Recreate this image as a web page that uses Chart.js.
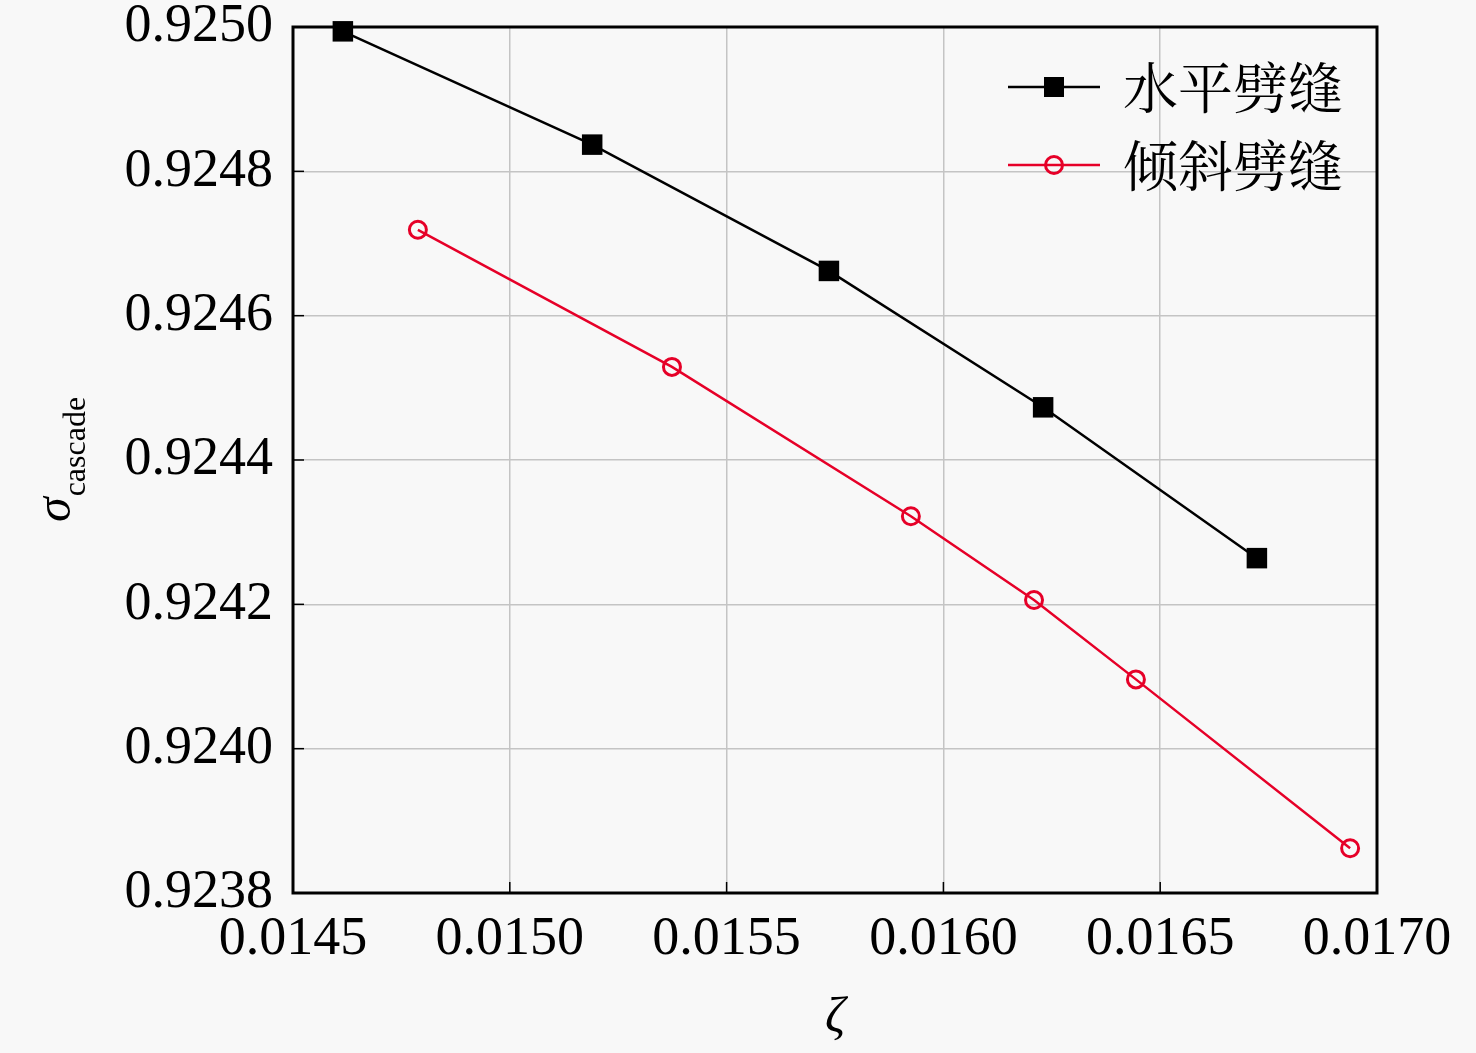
<!DOCTYPE html>
<html lang="zh">
<head>
<meta charset="UTF-8">
<title>sigma cascade vs zeta</title>
<script src="https://cdn.jsdelivr.net/npm/chart.js@4.4.0/dist/chart.umd.min.js"></script>
<style>
  body { margin: 0; background: #f8f8f8; }
  canvas { display: block; }
</style>
</head>
<body>
<canvas id="myChart" width="1476" height="1053"></canvas>
<script>
// data
var seriesNames = ['水平劈缝', '倾斜劈缝'];
var horizZeta  = [0.014615, 0.015190, 0.015736, 0.016230, 0.016723];
var horizSigma = [0.924994, 0.924837, 0.924662, 0.924473, 0.924264];
var tiltZeta   = [0.014788, 0.015374, 0.015925, 0.016209, 0.016444, 0.016938];
var tiltSigma  = [0.924719, 0.924529, 0.924322, 0.924206, 0.924096, 0.923862];
var xTicks = [0.0145, 0.0150, 0.0155, 0.0160, 0.0165, 0.0170];
var yTicks = [0.9238, 0.9240, 0.9242, 0.9244, 0.9246, 0.9248, 0.9250];

var serif = '"Liberation Serif", "Times New Roman", serif';
var cjk = '"Noto Serif CJK SC", "Noto Sans CJK SC", sans-serif';
var red = 'rgb(230, 0, 40)';

function pairs(xs, ys) {
  return xs.map(function (x, i) { return { x: x, y: ys[i] }; });
}

// box, inward ticks, y title with subscript, legend
var decor = {
  id: 'decor',
  afterDraw: function (chart) {
    var ctx = chart.ctx, a = chart.chartArea;
    var xs = chart.scales.x, ys = chart.scales.y;
    ctx.save();
    ctx.strokeStyle = '#000';
    ctx.lineWidth = 1.5;
    xTicks.forEach(function (v) {
      var px = xs.getPixelForValue(v);
      ctx.beginPath(); ctx.moveTo(px, a.bottom); ctx.lineTo(px, a.bottom - 11); ctx.stroke();
    });
    yTicks.forEach(function (v) {
      var py = ys.getPixelForValue(v);
      ctx.beginPath(); ctx.moveTo(a.left, py); ctx.lineTo(a.left + 11, py); ctx.stroke();
    });
    ctx.lineWidth = 3;
    ctx.strokeRect(a.left, a.top, a.right - a.left, a.bottom - a.top);

    // y title: sigma_cascade
    ctx.translate(70, 522);
    ctx.rotate(-Math.PI / 2);
    ctx.fillStyle = '#000';
    ctx.textBaseline = 'alphabetic';
    ctx.textAlign = 'left';
    ctx.font = 'italic 50px ' + serif;
    ctx.fillText('σ', 0, 0);
    var w = ctx.measureText('σ').width;
    ctx.font = '32px ' + serif;
    ctx.fillText('cascade', w + 1, 15);
    ctx.setTransform(1, 0, 0, 1, 0, 0);

    // legend
    var rows = [87, 165];
    chart.data.datasets.forEach(function (ds, i) {
      var y = rows[i];
      ctx.strokeStyle = ds.borderColor;
      ctx.lineWidth = 2.5;
      ctx.beginPath(); ctx.moveTo(1008, y); ctx.lineTo(1100, y); ctx.stroke();
      if (ds.pointStyle === 'rect') {
        ctx.fillStyle = ds.pointBackgroundColor;
        ctx.fillRect(1054 - 10, y - 10, 20, 20);
      } else {
        ctx.lineWidth = ds.pointBorderWidth;
        ctx.beginPath(); ctx.arc(1054, y, ds.pointRadius, 0, Math.PI * 2); ctx.stroke();
      }
      ctx.fillStyle = '#000';
      ctx.font = '55px ' + cjk;
      ctx.textBaseline = 'middle';
      ctx.fillText(ds.label, 1123, y);
    });
    ctx.restore();
  }
};

var ctx = document.getElementById('myChart').getContext('2d');
var chart = new Chart(ctx, {
  type: 'scatter',
  data: {
    datasets: [{
      label: seriesNames[0],
      data: pairs(horizZeta, horizSigma),
      showLine: true,
      borderColor: '#000',
      borderWidth: 2.5,
      pointStyle: 'rect',
      pointRadius: 14.5,
      pointBackgroundColor: '#000',
      pointBorderColor: '#000',
      pointBorderWidth: 0,
      clip: false
    }, {
      label: seriesNames[1],
      data: pairs(tiltZeta, tiltSigma),
      showLine: true,
      borderColor: red,
      borderWidth: 2.5,
      pointStyle: 'circle',
      pointRadius: 8.5,
      pointBackgroundColor: 'rgba(0,0,0,0)',
      pointBorderColor: red,
      pointBorderWidth: 3,
      clip: false
    }]
  },
  options: {
    responsive: false,
    animation: false,
    devicePixelRatio: 1,
    layout: { padding: { left: 0, right: 99, top: 27, bottom: 0 } },
    plugins: { legend: { display: false }, tooltip: { enabled: false } },
    scales: {
      x: {
        type: 'linear',
        min: 0.0145, max: 0.0170,
        afterBuildTicks: function (s) { s.ticks = xTicks.map(function (v) { return { value: v }; }); },
        afterFit: function (s) { s.height = 160; s.paddingLeft = 0; s.paddingRight = 0; },
        grid: { color: '#c4c4c4', lineWidth: 1.5, drawTicks: false },
        border: { display: false },
        ticks: {
          padding: 14,
          color: '#000',
          maxRotation: 0,
          font: { family: serif, size: 54 },
          callback: function (v) { return v.toFixed(4); }
        },
        title: {
          display: true,
          text: 'ζ',
          color: '#000',
          font: { family: serif, size: 50, style: 'italic' },
          padding: { top: 0, bottom: 4 }
        }
      },
      y: {
        type: 'linear',
        min: 0.9238, max: 0.9250,
        afterBuildTicks: function (s) { s.ticks = yTicks.map(function (v) { return { value: v }; }); },
        afterFit: function (s) { s.width = 293; s.paddingTop = 0; s.paddingBottom = 0; },
        grid: { color: '#c4c4c4', lineWidth: 1.5, drawTicks: false },
        border: { display: false },
        ticks: {
          padding: 20,
          color: '#000',
          font: { family: serif, size: 54 },
          callback: function (v) { return v.toFixed(4); }
        }
      }
    }
  },
  plugins: [decor]
});
</script>
</body>
</html>
